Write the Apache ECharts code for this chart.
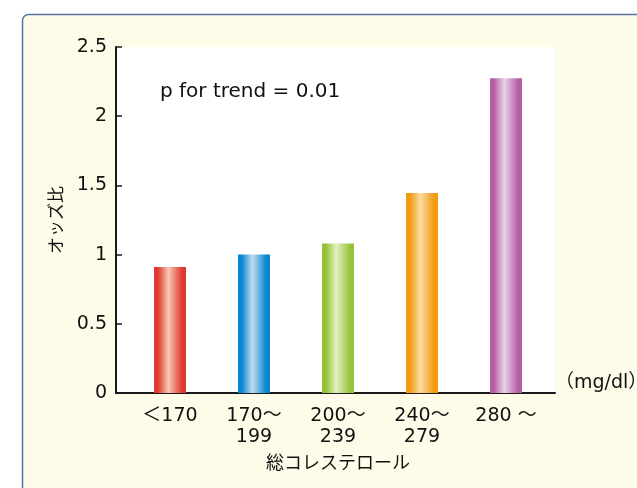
<!DOCTYPE html>
<html><head><meta charset="utf-8">
<script src="https://cdn.jsdelivr.net/npm/echarts@6/dist/echarts.min.js"></script>
<style>html,body{margin:0;padding:0;background:#fff}#c{width:637px;height:488px}</style>
</head><body><div id="c"></div>
<script>
const categories = ['＜170', '170～\n199', '200～\n239', '240～\n279', '280 ～'];
const oddsRatios = [0.91, 1.00, 1.08, 1.445, 2.275];
const yTicks = [0, 0.5, 1, 1.5, 2, 2.5];
const barColors = [
  ['#e0372e', '#f8c8b4'],
  ['#0887cf', '#c3dbf0'],
  ['#95c236', '#e6f0c4'],
  ['#f29a10', '#fddba4'],
  ['#b45ea6', '#ead3e8']
];
const font = "'DejaVu Sans', 'Noto Sans CJK JP', sans-serif";
const jfont = "'Noto Sans CJK JP', sans-serif";

function grad(c) {
  return new echarts.graphic.LinearGradient(0, 0, 1, 0, [
    {offset: 0, color: c[0]}, {offset: 0.12, color: c[0]},
    {offset: 0.45, color: c[1]}, {offset: 0.88, color: c[0]}, {offset: 1, color: c[0]}
  ]);
}

const chart = echarts.init(document.getElementById('c'), null, {renderer: 'canvas'});
chart.setOption({
  backgroundColor: '#fff',
  animation: false,
  graphic: [{
    type: 'rect', z: -10, silent: true,
    shape: {x: 22.5, y: 14.5, width: 700, height: 600, r: 6},
    style: {fill: '#fefbe8', stroke: '#5873a8', lineWidth: 1.5}
  }],
  title: {
    text: 'p for trend = 0.01', left: 155, top: 77,
    textStyle: {fontFamily: font, fontSize: 20, fontWeight: 'normal', color: '#111'}
  },
  grid: [
    {left: 116, top: 47, width: 439, height: 346, show: true, backgroundColor: '#fff', borderWidth: 0,
     outerBoundsMode: 'none', containLabel: false},
    {left: 128, top: 47, width: 420, height: 346, outerBoundsMode: 'none', containLabel: false}
  ],
  xAxis: [
    {gridIndex: 0, type: 'value', min: 0, max: 1,
     axisLine: {show: true, lineStyle: {color: '#1a1a1a', width: 2}},
     axisTick: {show: false}, axisLabel: {show: false}, splitLine: {show: false},
     name: '（mg/dl）', nameLocation: 'end', nameGap: 0,
     nameTextStyle: {fontFamily: font, fontSize: 19, color: '#111', verticalAlign: 'bottom', padding: [0, 0, 0, 0]}},
    {gridIndex: 1, type: 'category', data: categories,
     axisLine: {show: false}, axisTick: {show: false},
     axisLabel: {fontFamily: font, fontSize: 19, color: '#111', lineHeight: 21, margin: 13},
     name: '総コレステロール', nameLocation: 'middle', nameGap: 60,
     nameTextStyle: {fontFamily: jfont, fontSize: 18, color: '#111'}}
  ],
  yAxis: [
    {gridIndex: 0, type: 'value', min: 0, max: 2.5, interval: 0.5,
     axisLine: {show: true, lineStyle: {color: '#1a1a1a', width: 2}},
     axisTick: {show: true, inside: true, length: 6, lineStyle: {color: '#1a1a1a', width: 1.5}},
     axisLabel: {fontFamily: font, fontSize: 19, color: '#111', margin: 9,
       customValues: yTicks, formatter: v => String(v)},
     splitLine: {show: false},
     name: 'オッズ比', nameLocation: 'middle', nameGap: 52, nameRotate: 90,
     nameTextStyle: {fontFamily: jfont, fontSize: 17, color: '#111'}},
    {gridIndex: 1, type: 'value', min: 0, max: 2.5, show: false}
  ],
  series: [{
    type: 'bar', xAxisIndex: 1, yAxisIndex: 1, barWidth: 32,
    data: oddsRatios.map((v, i) => ({value: v, itemStyle: {color: grad(barColors[i])}}))
  }]
});
</script></body></html>
